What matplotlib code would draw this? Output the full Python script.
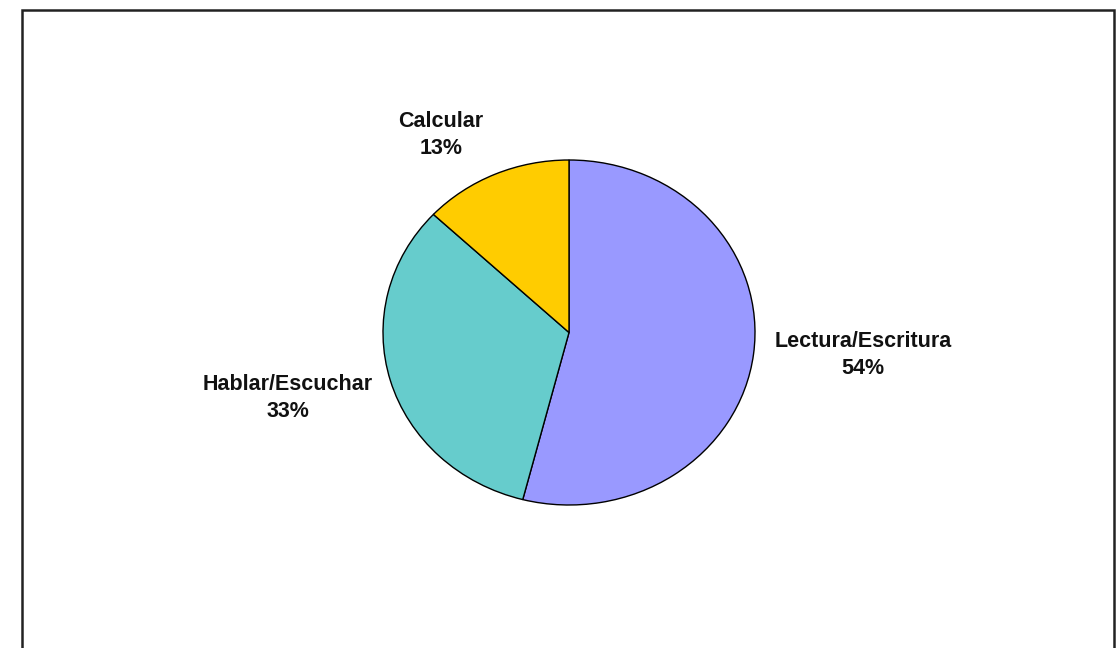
import matplotlib.pyplot as plt
from matplotlib.patches import Rectangle

labels = ["Lectura/Escritura", "Hablar/Escuchar", "Calcular"]
values = [54, 33, 13]
colors = ["#9999FF", "#66CCCC", "#FFCC00"]

# label centres in pie units (radius 1)
label_pos = [(1.58, -0.13), (-1.51, -0.38), (-0.69, 1.145)]


def main():
    plt.rcParams['font.family'] = ['Liberation Sans', 'DejaVu Sans']
    fig = plt.figure(figsize=(11.2, 6.48), dpi=100)

    # outer chart frame (bottom edge runs off the image)
    fig.patches.append(Rectangle((22 / 1120, -0.05), (1114 - 22) / 1120, 1.05 - 10 / 648,
                                 transform=fig.transFigure, fill=False,
                                 edgecolor="#222222", linewidth=1.8))

    ax = fig.add_axes([383 / 1120, 1 - 505 / 648, (755 - 383) / 1120, (505 - 160) / 648])
    ax.pie(values, colors=colors, startangle=90, counterclock=False,
           wedgeprops=dict(edgecolor="black", linewidth=1.0))
    ax.set_aspect('auto')
    ax.set_xlim(-1, 1)
    ax.set_ylim(-1, 1)

    for lab, val, (x, y) in zip(labels, values, label_pos):
        ax.text(x, y, f"{lab}\n{val}%", ha="center", va="center",
                fontsize=15.5, fontweight="bold", linespacing=1.4,
                color="#111111", clip_on=False)

    fig.savefig("out.png", dpi=100)


if __name__ == "__main__":
    main()
